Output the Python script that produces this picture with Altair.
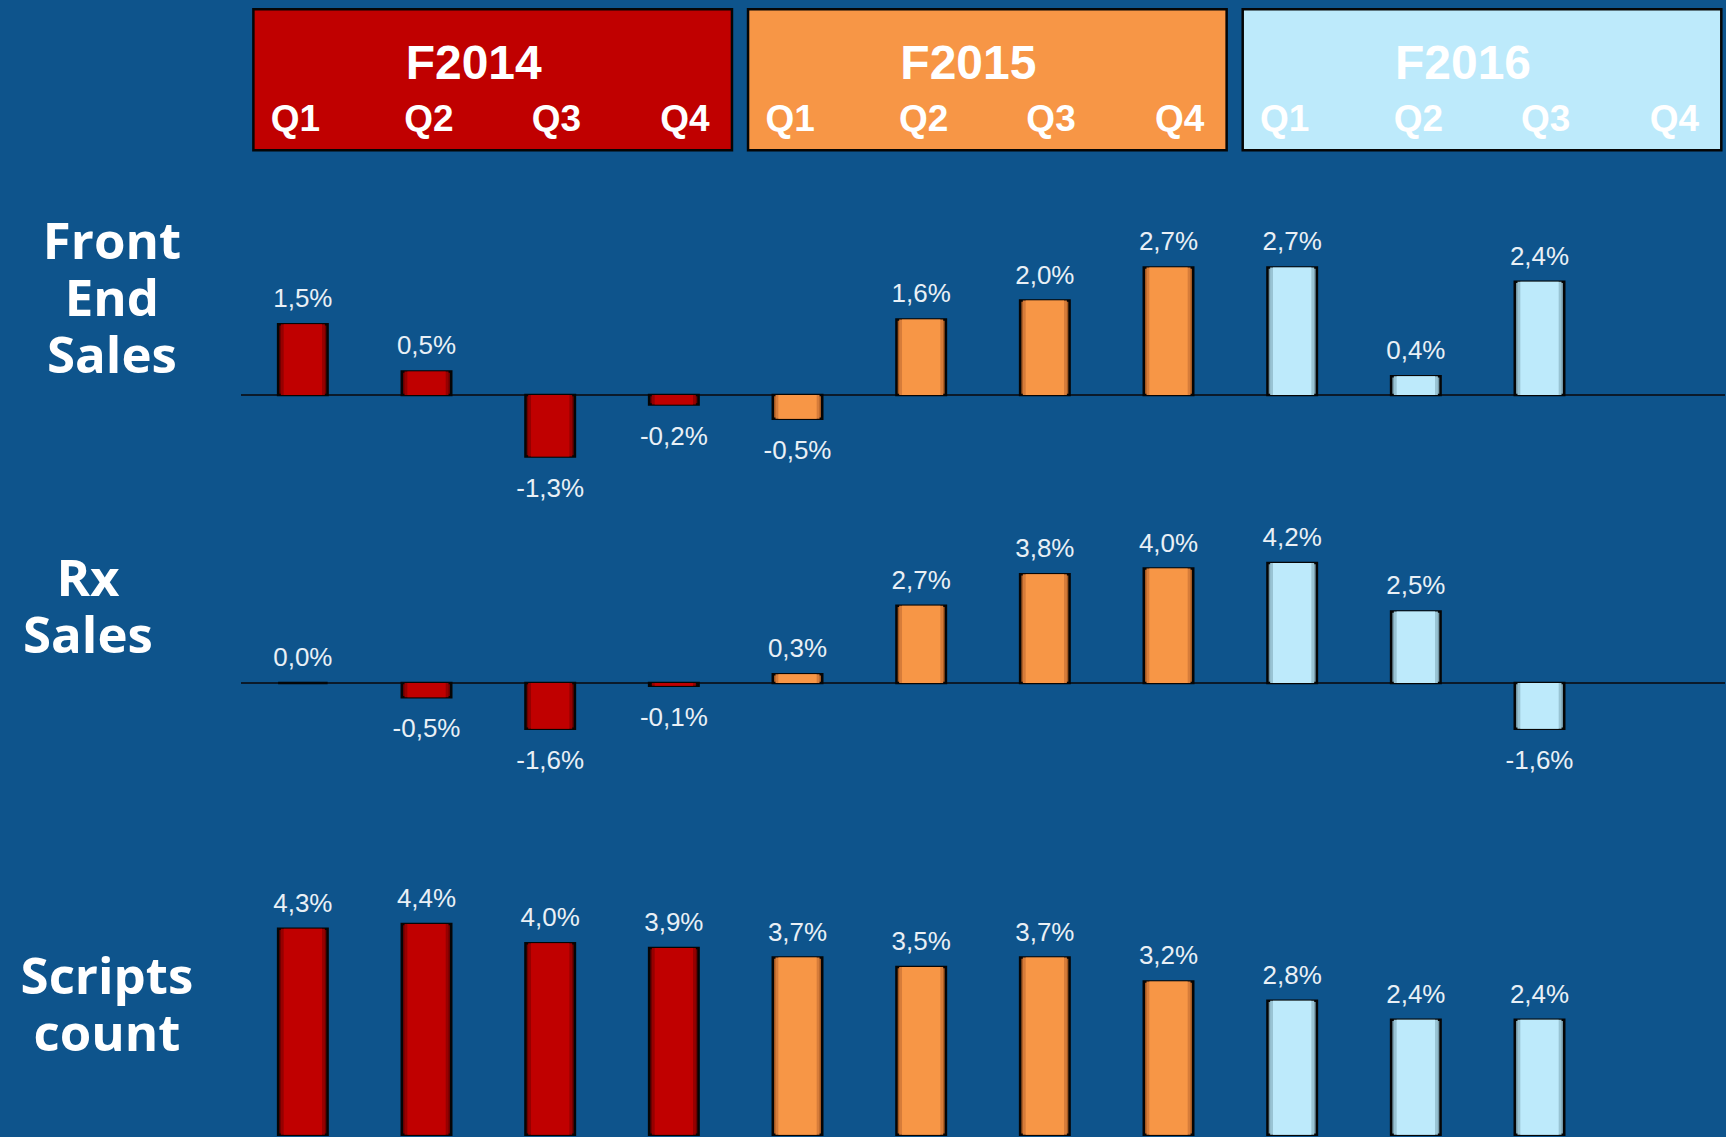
import altair as alt
import pandas as pd

# ---------------- data ----------------
quarters = ["Q1", "Q2", "Q3", "Q4"] * 3
years = ["F2014"] * 4 + ["F2015"] * 4 + ["F2016"] * 4
front_end = [1.5, 0.5, -1.3, -0.2, -0.5, 1.6, 2.0, 2.7, 2.7, 0.4, 2.4, None]
rx_sales = [0.0, -0.5, -1.6, -0.1, 0.3, 2.7, 3.8, 4.0, 4.2, 2.5, -1.6, None]
scripts_count = [4.3, 4.4, 4.0, 3.9, 3.7, 3.5, 3.7, 3.2, 2.8, 2.4, 2.4, None]
year_names = ["F2014", "F2015", "F2016"]
year_colors = ["#c00000", "#f79646", "#bdeafb"]
year_mid = ["#960000", "#d67c3a", "#99c4d4"]
year_edge = ["#6a0000", "#a65a22", "#7599a8"]
row_titles = {"fe": "Front\nEnd\nSales", "rx": "Rx\nSales", "sc": "Scripts\ncount"}
q_label_shift = {"Q1": -0.06, "Q2": 0.02, "Q3": 0.05, "Q4": 0.09}

# ---------------- tables ----------------
recs = []
for metric, vals in [("fe", front_end), ("rx", rx_sales), ("sc", scripts_count)]:
    for i, (q, y, v) in enumerate(zip(quarters, years, vals)):
        if v is None:
            continue
        recs.append({"metric": metric, "idx": i, "quarter": q, "year": y, "value": v,
                     "label": f"{v:.1f}%".replace(".", ",")})
df = pd.DataFrame(recs)

qdf = pd.DataFrame({"idx": list(range(12)), "quarter": quarters, "year": years,
                    "shift": [q_label_shift[q] for q in quarters]})
hdr = pd.DataFrame({
    "year": year_names,
    "first": [years.index(y) for y in year_names],
    "last": [len(years) - 1 - years[::-1].index(y) for y in year_names],
})

W = 1726
XDOM = [-2.449, 11.5]
BG = "#0e548c"
xscale = alt.Scale(domain=XDOM, nice=False, zero=False)


def color_enc(rng):
    return alt.Color("year:N", scale=alt.Scale(domain=year_names, range=rng), legend=None)


def panel(metric, height, ydom, title_x, title_y, rule=True):
    yscale = alt.Scale(domain=ydom, nice=False, zero=False)
    base = alt.Chart(df).transform_filter(alt.datum.metric == metric)
    layers = []
    if rule:
        layers.append(
            alt.Chart(pd.DataFrame({"a": [0]})).mark_rule(color="#0b1a2a", strokeWidth=2).encode(
                x=alt.X("a0:Q", scale=xscale, axis=None), x2="a1:Q",
                y=alt.Y("a:Q", scale=yscale, axis=None),
            ).transform_calculate(a0="-0.5", a1="11.5")
        )
    # bar body: dark edge, mid, main (inset layers give a soft inner shadow)
    for inset, rng, stroke in [(0.0, year_edge, True), (0.022, year_mid, False), (0.045, year_colors, False)]:
        layers.append(
            base.transform_calculate(x0=f"datum.idx - 0.2 + {inset}", x1=f"datum.idx + 0.2 - {inset}")
            .mark_bar(stroke="#050505" if stroke else None, strokeWidth=2.5 if stroke else 0)
            .encode(
                x=alt.X("x0:Q", scale=xscale, axis=None),
                x2="x1:Q",
                y=alt.Y("value:Q", scale=yscale, axis=None),
                y2=alt.datum(0),
                color=color_enc(rng),
            )
        )
    text_style = dict(font="Liberation Sans", fontSize=26, color="#e9f0f6", baseline="middle")
    layers.append(
        base.transform_filter(alt.datum.value >= 0).mark_text(dy=-25, **text_style).encode(
            x=alt.X("idx:Q", scale=xscale, axis=None),
            y=alt.Y("value:Q", scale=yscale, axis=None),
            text="label:N",
        )
    )
    layers.append(
        base.transform_filter(alt.datum.value < 0).mark_text(dy=32, **text_style).encode(
            x=alt.X("idx:Q", scale=xscale, axis=None),
            y=alt.Y("value:Q", scale=yscale, axis=None),
            text="label:N",
        )
    )
    layers.append(
        alt.Chart(pd.DataFrame({"t": [row_titles[metric]]})).mark_text(
            font="Open Sans", fontWeight="bold", fontSize=51, color="white",
            lineBreak="\n", lineHeight=57, align="center", baseline="middle",
        ).encode(x=alt.value(title_x), y=alt.value(title_y), text="t:N")
    )
    return alt.layer(*layers).resolve_scale(color="independent").properties(width=W, height=height)


# ---------------- header ----------------
hbase = alt.Chart(hdr).transform_calculate(
    bx0="datum.first - 0.4", bx1="datum.last + 0.47", bc="(datum.first + datum.last) / 2 + 0.035"
)
boxes = hbase.mark_rect(stroke="#050505", strokeWidth=2.5).encode(
    x=alt.X("bx0:Q", scale=xscale, axis=None),
    x2="bx1:Q",
    y=alt.value(9),
    y2=alt.value(150),
    color=color_enc(year_colors),
)
year_text = hbase.mark_text(
    font="Liberation Sans", fontWeight="bold", fontSize=48, color="white", dx=-19, baseline="middle"
).encode(x=alt.X("bc:Q", scale=xscale, axis=None), y=alt.value(65), text="year:N")
q_text = alt.Chart(qdf).transform_calculate(qx="datum.idx + datum.shift").mark_text(
    font="Liberation Sans", fontWeight="bold", fontSize=37, color="white", baseline="middle"
).encode(x=alt.X("qx:Q", scale=xscale, axis=None), y=alt.value(120), text="quarter:N")
header = alt.layer(boxes, year_text, q_text).properties(width=W, height=160)

# ---------------- rows ----------------
fe = panel("fe", 345, [-2.326, 4.968], 112, 84)
rx = panel("rx", 285, [-3.741, 6.224], 88, 76)
sc = panel("sc", 347, [-0.04, 7.2], 107, 189, rule=False)

chart = (
    alt.vconcat(header, fe, rx, sc, spacing=0)
    .resolve_scale(color="independent")
    .properties(background=BG, padding=0)
    .configure_view(stroke=None)
)

chart.save("out.html", embed_options={"renderer": "svg", "actions": False})
